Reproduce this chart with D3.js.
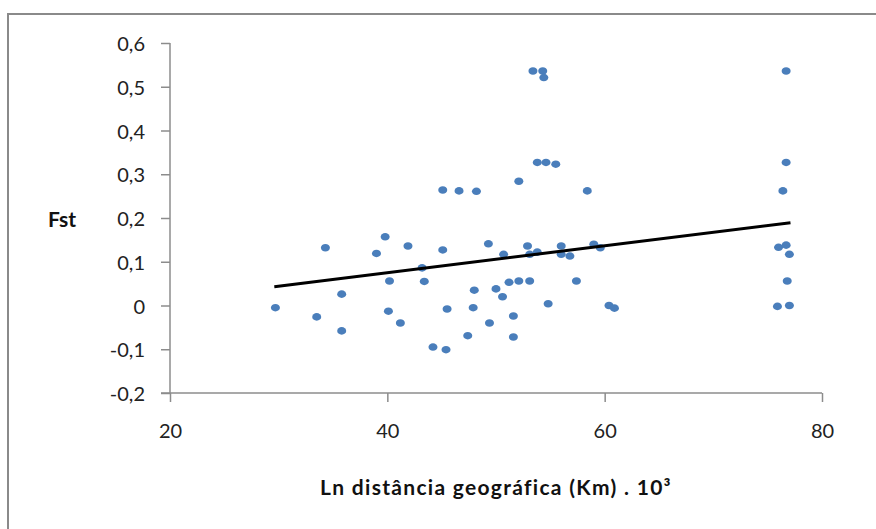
<!DOCTYPE html>
<html>
<head>
<meta charset="utf-8">
<script src="https://cdn.jsdelivr.net/npm/d3@7"></script>
<style>
  html, body { margin: 0; padding: 0; background: #fff; }
  svg { display: block; }
</style>
</head>
<body>
<svg id="chart" width="876" height="529"></svg>
<script>
// ---- data ----
const distX = [29.7, 33.5, 34.3, 35.8, 35.8, 39.0, 39.8, 40.1, 40.2, 41.2,
               41.9, 43.2, 43.4, 44.2, 45.1, 45.1, 45.4, 45.5, 46.6, 47.4,
               47.9, 48.0, 48.2, 49.3, 49.4, 50.0, 50.6, 50.7, 51.2, 51.6,
               51.6, 52.1, 52.1, 52.9, 53.1, 53.1, 53.4, 53.8, 53.8, 54.3,
               54.4, 54.6, 54.8, 55.5, 56.0, 56.0, 56.8, 57.4, 58.4, 59.0,
               59.6, 60.4, 60.9, 75.9, 76.0, 76.4, 76.7, 76.7, 76.7, 76.8,
               77.0, 77.0];
const fstY  = [-0.005, -0.026, 0.132, 0.026, -0.058, 0.119, 0.157, -0.013, 0.056, -0.040,
               0.136, 0.086, 0.055, -0.095, 0.264, 0.127, -0.101, -0.008, 0.262, -0.069,
               -0.005, 0.035, 0.261, 0.141, -0.040, 0.038, 0.020, 0.117, 0.053, -0.024,
               -0.072, 0.056, 0.284, 0.136, 0.117, 0.056, 0.536, 0.122, 0.327, 0.536,
               0.521, 0.327, 0.004, 0.323, 0.136, 0.117, 0.113, 0.056, 0.262, 0.140,
               0.132, 0.000, -0.006, -0.002, 0.133, 0.262, 0.536, 0.327, 0.138, 0.056,
               0.117, 0.000];
const trendX = [29.6, 77.1];
const trendY = [0.043, 0.189];
const xTicks = [20, 40, 60, 80];
const yTicks = [-0.2, -0.1, 0, 0.1, 0.2, 0.3, 0.4, 0.5, 0.6];
const xTitle = "Ln distância geográfica (Km) . 10³";
const yTitle = "Fst";

// ---- layout ----
const svg = d3.select("#chart");
const pLeft = 170, pRight = 822, pTop = 43, pBottom = 393;
const x = d3.scaleLinear().domain([20, 80]).range([pLeft, pRight]);
const y = d3.scaleLinear().domain([-0.2, 0.6]).range([pBottom, pTop]);
const fmt = v => (Math.abs(v) < 1e-9 ? "0" : d3.format(".1f")(v).replace(".", ",").replace("\u2212", "-"));
const axisColor = "#8c8c8c";
const font = "Lato, 'Open Sans', sans-serif";

// outer frame (top + left edge visible)
svg.append("path")
  .attr("d", "M8,529 L8,14 L876,14")
  .attr("fill", "none").attr("stroke", "#8a8a8a").attr("stroke-width", 2);

// y axis
const gy = svg.append("g").attr("transform", `translate(${pLeft},0)`)
  .call(d3.axisLeft(y).tickValues(yTicks).tickFormat(fmt).tickSize(9).tickPadding(16));
// x axis
const gx = svg.append("g").attr("transform", `translate(0,${pBottom})`)
  .call(d3.axisBottom(x).tickValues(xTicks).tickFormat(d3.format("d")).tickSize(9).tickPadding(22));

[gx, gy].forEach(g => {
  g.select(".domain").attr("stroke", axisColor).attr("stroke-width", 1.5);
  g.selectAll(".tick line").attr("stroke", axisColor).attr("stroke-width", 1.5);
  g.selectAll(".tick text").attr("fill", "#222").style("font-family", font).style("font-size", "20px");
});
gy.select(".domain").attr("d", `M0,${pTop}V${pBottom}`);
gx.select(".domain").attr("d", `M${pLeft - 9},0H${pRight}`);
gy.selectAll(".tick text").attr("dy", "0.38em");

// points
svg.append("g").selectAll("ellipse")
  .data(distX.map((d, i) => [d, fstY[i]]))
  .join("ellipse")
  .attr("cx", d => x(d[0]))
  .attr("cy", d => y(d[1]))
  .attr("rx", 4.5).attr("ry", 3.8)
  .attr("fill", "#4a7ebb");

// trend line
svg.append("path")
  .datum(trendX.map((d, i) => [d, trendY[i]]))
  .attr("d", d3.line().x(d => x(d[0])).y(d => y(d[1])))
  .attr("fill", "none").attr("stroke", "#000").attr("stroke-width", 3);

// titles
svg.append("text")
  .attr("x", 496).attr("y", 495)
  .attr("text-anchor", "middle")
  .style("font-family", font).style("font-weight", "bold").style("font-size", "21px")
  .style("letter-spacing", "1.3px")
  .attr("fill", "#111")
  .text(xTitle);
svg.append("text")
  .attr("x", 62).attr("y", 227)
  .attr("text-anchor", "middle")
  .style("font-family", font).style("font-weight", "bold").style("font-size", "21px")
  .attr("fill", "#111")
  .text(yTitle);
</script>
</body>
</html>
